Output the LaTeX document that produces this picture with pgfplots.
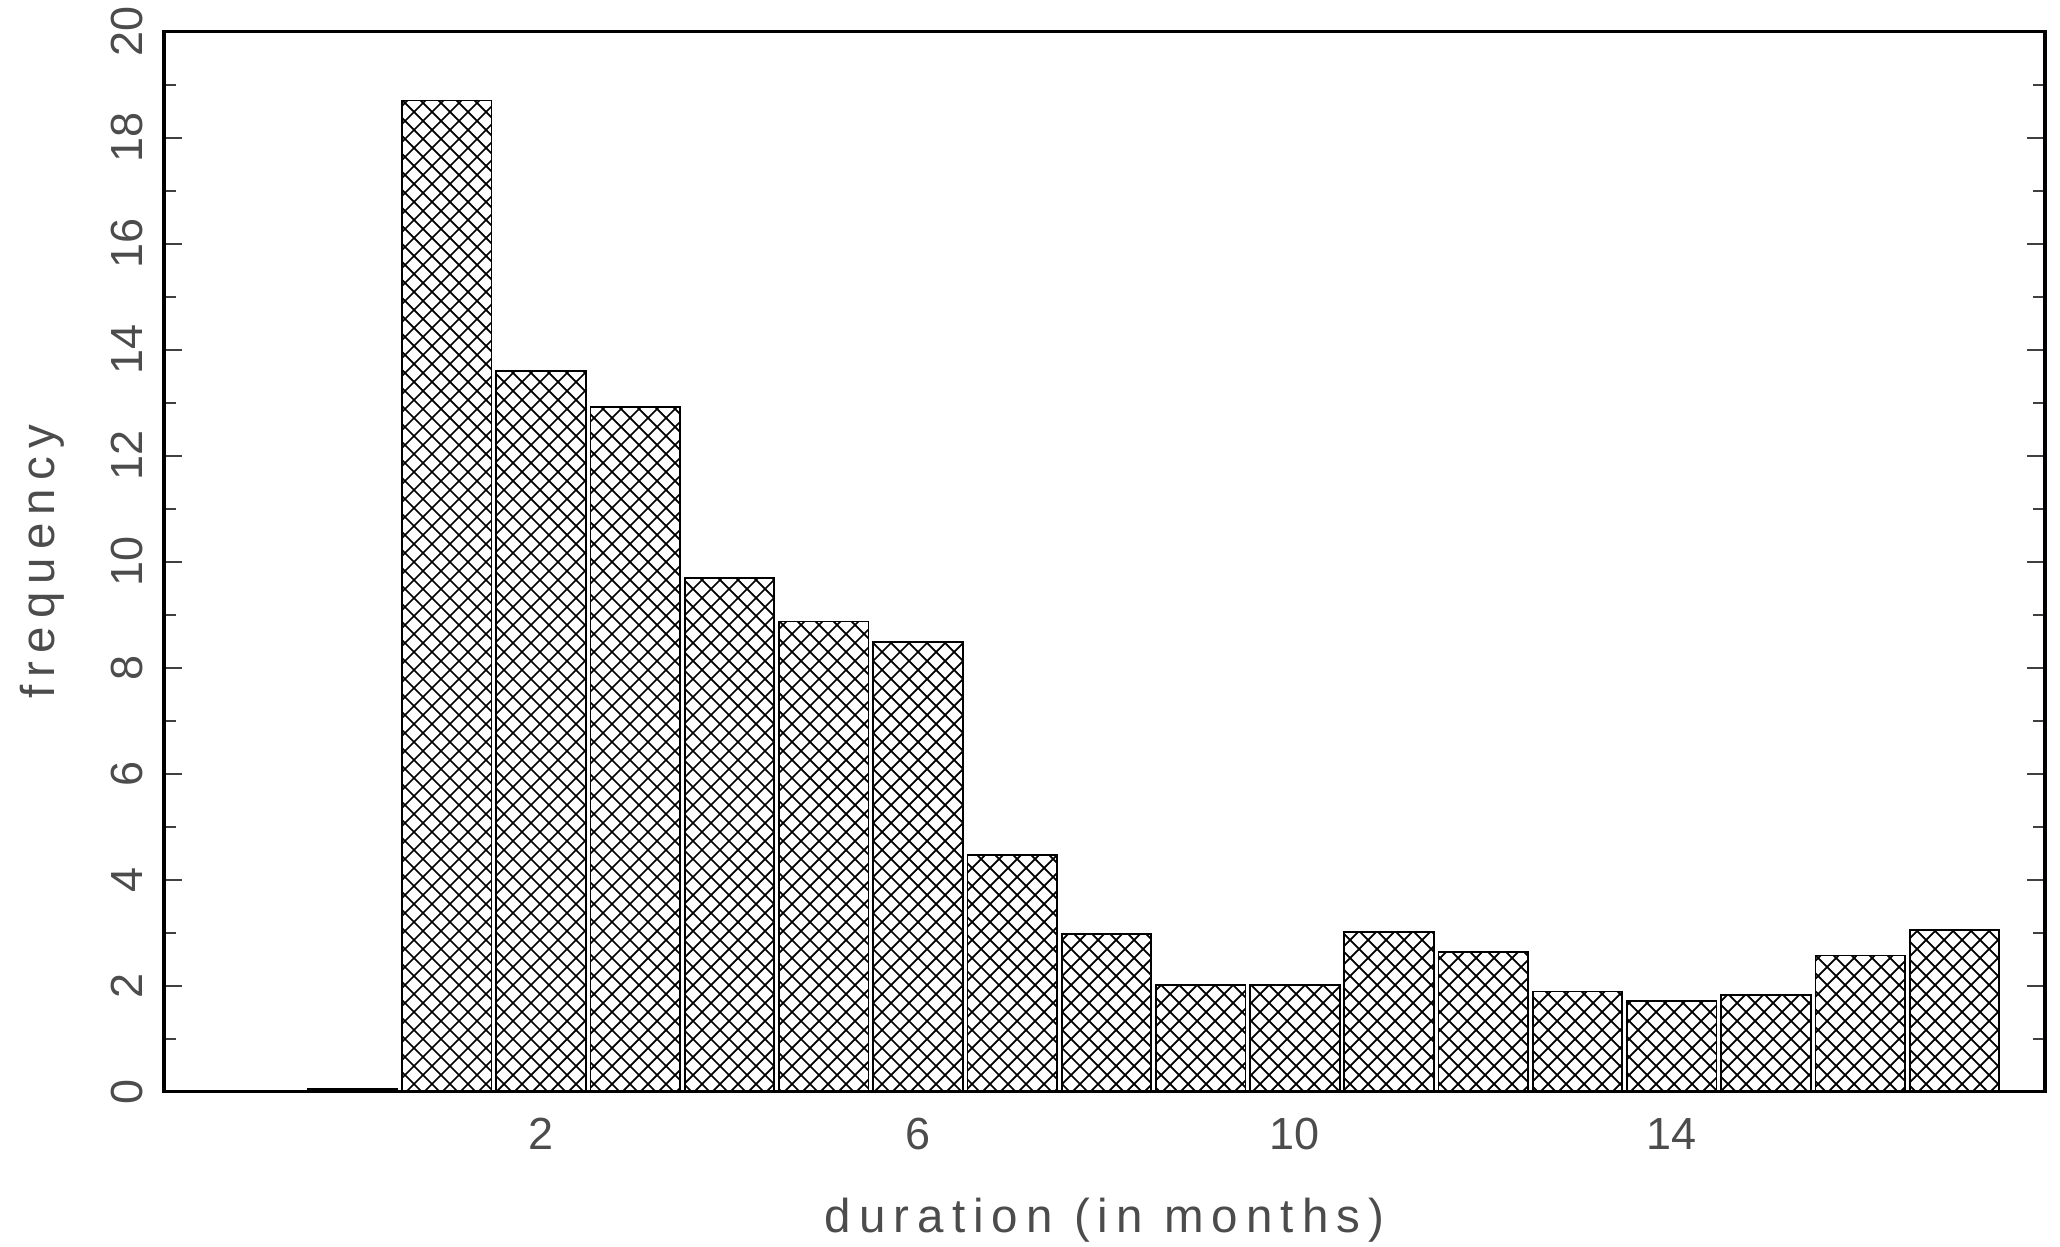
\documentclass[border=0pt]{standalone}
\usepackage{fontspec}
\setmainfont{Liberation Sans}
\newfontfamily\lblfont[LetterSpace=17]{Liberation Sans}
\usepackage{pgfplots}
\pgfplotsset{compat=1.18}
\usetikzlibrary{patterns}
\pgfdeclarepatternformonly{xhatch}{\pgfqpoint{-0.2pt}{-0.2pt}}{\pgfqpoint{3.8pt}{3.8pt}}{\pgfqpoint{3.6pt}{3.6pt}}{%
  \pgfsetlinewidth{0.35pt}%
  \pgfpathmoveto{\pgfqpoint{-0.1pt}{-0.1pt}}%
  \pgfpathlineto{\pgfqpoint{3.7pt}{3.7pt}}%
  \pgfpathmoveto{\pgfqpoint{-0.1pt}{3.7pt}}%
  \pgfpathlineto{\pgfqpoint{3.7pt}{-0.1pt}}%
  \pgfusepath{stroke}%
}
\definecolor{txt}{gray}{0.3}
\begin{document}
\begin{tikzpicture}
\begin{axis}[
  scale only axis,
  width=376.2pt, height=212pt,
  xmin=-2, xmax=17.96, ymin=0, ymax=20,
  ybar, bar width=0.95,
  axis line style={line width=0.7pt, black},
  xtick={2,6,10,14},
  xtick style={draw=none},
  ytick={0,2,...,20},
  minor y tick num=1,
  ytick pos=both,
  tick align=inside,
  major tick length=3.6pt,
  minor tick length=2.4pt,
  ytick style={line width=0.35pt, black!75},
  minor tick style={line width=0.35pt, black!75},
  /pgf/number format/assume math mode=true,
  tick label style={font=\fontsize{9}{10}\selectfont, text=txt, inner sep=0pt},
  xticklabel style={anchor=base, yshift=-11.6pt},
  yticklabel style={xshift=-4.2pt, rotate=90, anchor=base},
  xlabel={duration (in months)},
  ylabel={frequency},
  label style={font=\lblfont\fontsize{9.5}{11}\selectfont, text=txt},
  xlabel style={at={(axis description cs:0.5,0)}, anchor=base, yshift=-28.2pt, inner sep=0pt},
  ylabel style={at={(axis description cs:-0.0649,0.5)}, anchor=center, inner sep=0pt},
  clip=false,
]
\addplot[draw=black, line width=0.35pt, pattern=xhatch, pattern color=black] coordinates {
  (0,0.05) (1,18.70) (2,13.60) (3,12.92) (4,9.69) (5,8.87) (6,8.48)
  (7,4.47) (8,2.98) (9,2.01) (10,2.01) (11,3.01) (12,2.64) (13,1.89)
  (14,1.71) (15,1.82) (16,2.57) (17,3.05)
};
\coordinate (sw) at (rel axis cs:0,0);
\coordinate (ne) at (rel axis cs:1,1);
\end{axis}
\pgfresetboundingbox
\path ([shift={(-32.8pt,-30.86pt)}]sw) rectangle ([shift={(3pt,6.34pt)}]ne);
\end{tikzpicture}
\end{document}
